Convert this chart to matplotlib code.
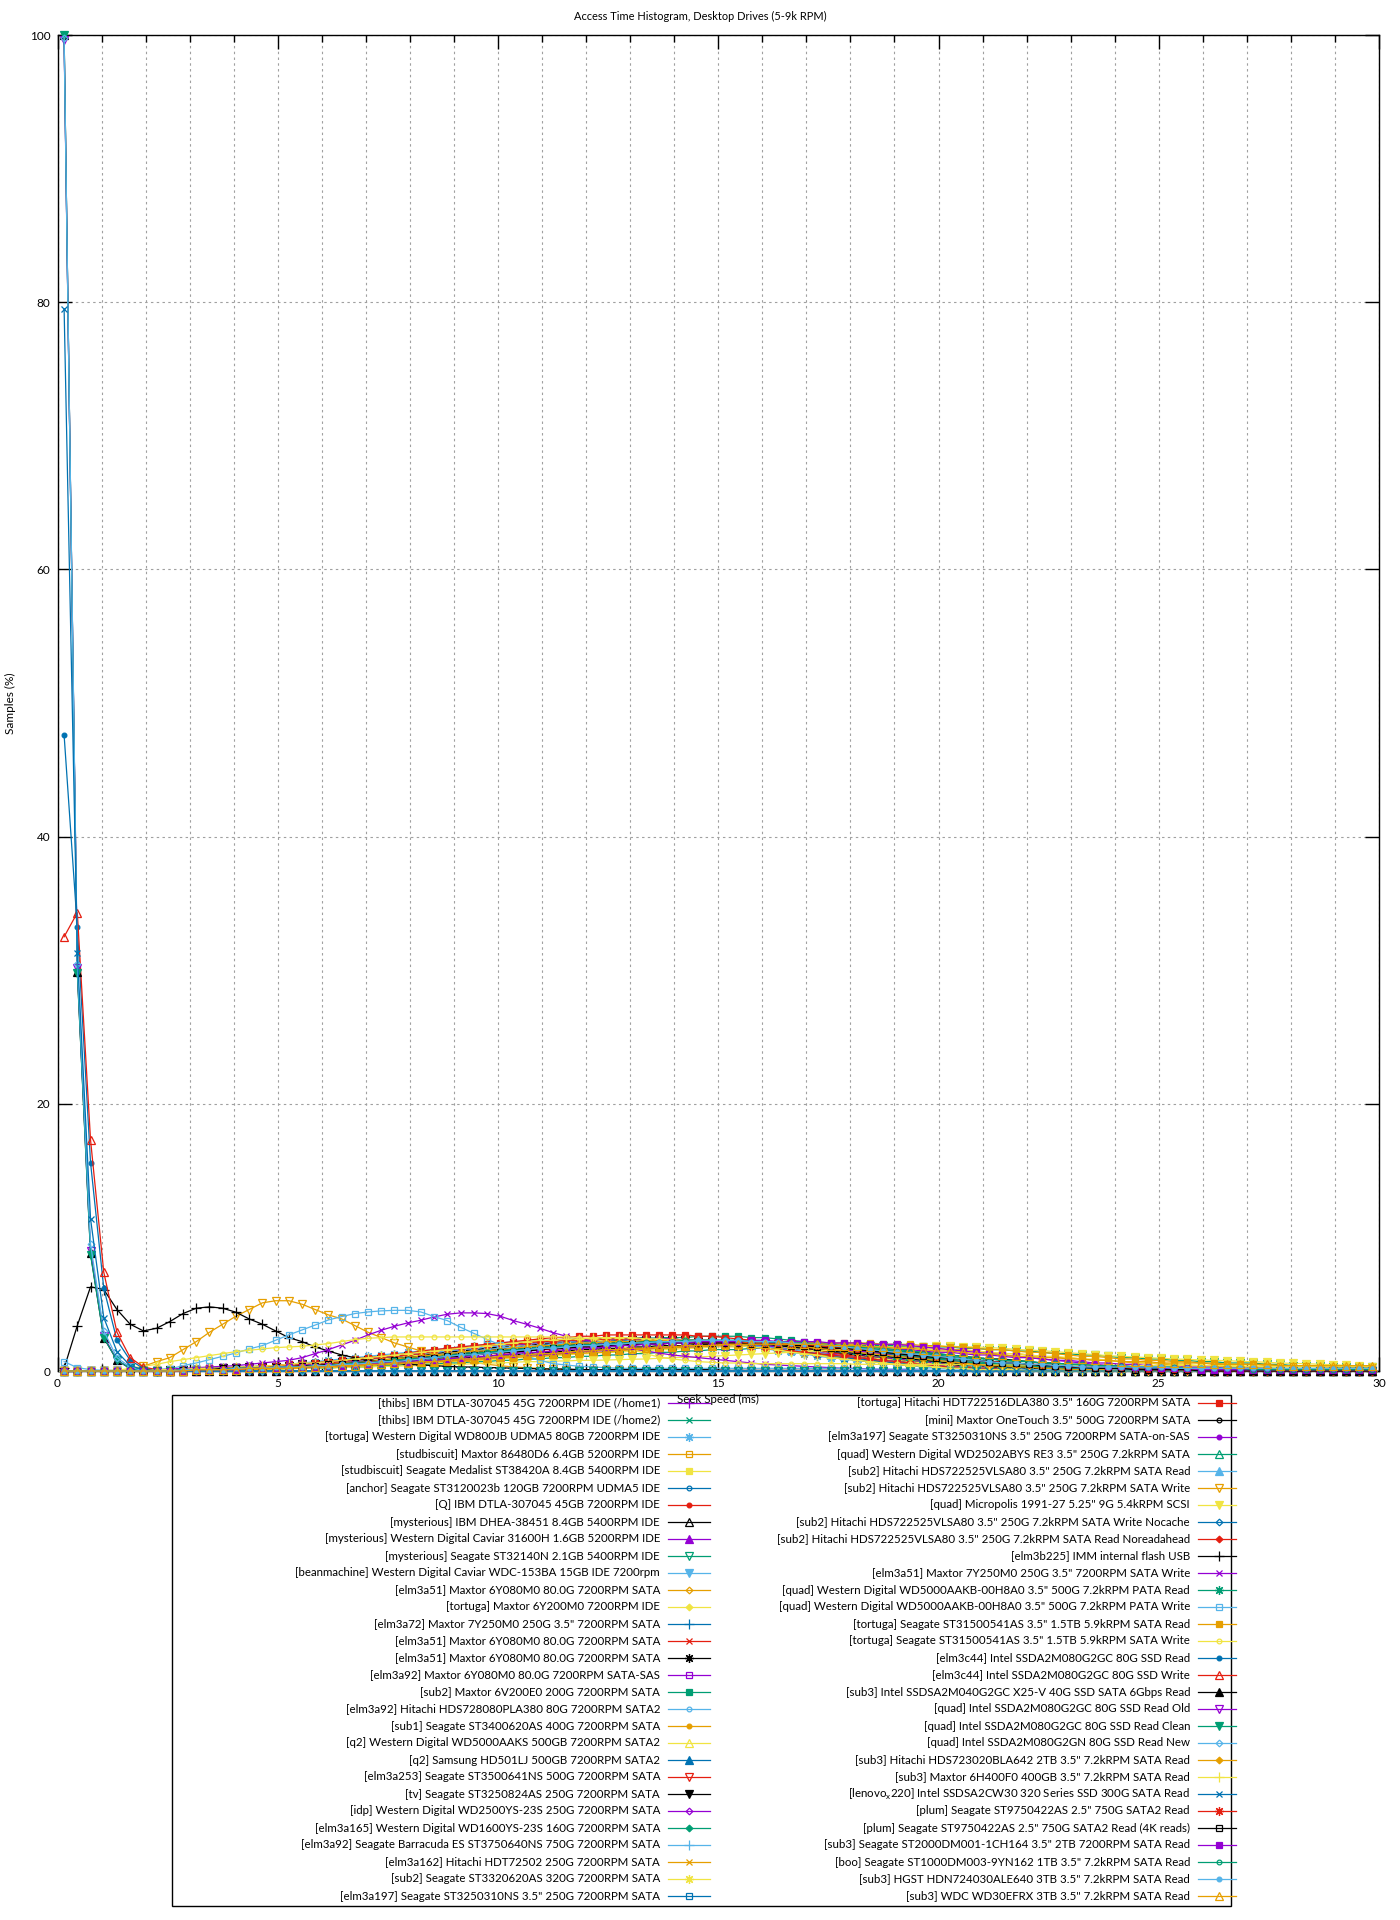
import numpy as np
import matplotlib
matplotlib.use('Agg')
import matplotlib.pyplot as plt
from matplotlib.lines import Line2D
from matplotlib.patches import Rectangle

plt.rcParams['font.family'] = ['Lato', 'DejaVu Sans']
plt.rcParams['mathtext.fontset'] = 'custom'
plt.rcParams['mathtext.rm'] = 'Lato'

TITLE = 'Access Time Histogram, Desktop Drives (5-9k RPM)'
XLABEL = 'Seek Speed (ms)'
YLABEL = 'Samples (%)'
X_TICKS = [0, 5, 10, 15, 20, 25, 30]
X_MINOR = list(range(0, 31))
Y_TICKS = [0, 20, 40, 60, 80, 100]
N_BINS = 100
BIN_START = 0.15
BIN_STEP = 0.3

LABELS = [
    '[thibs] IBM DTLA-307045 45G 7200RPM IDE (/home1)',
    '[thibs] IBM DTLA-307045 45G 7200RPM IDE (/home2)',
    '[tortuga] Western Digital WD800JB UDMA5 80GB 7200RPM IDE',
    '[studbiscuit] Maxtor 86480D6 6.4GB 5200RPM IDE',
    '[studbiscuit] Seagate Medalist ST38420A 8.4GB 5400RPM IDE',
    '[anchor] Seagate ST3120023b 120GB 7200RPM UDMA5 IDE',
    '[Q] IBM DTLA-307045 45GB 7200RPM IDE',
    '[mysterious] IBM DHEA-38451 8.4GB 5400RPM IDE',
    '[mysterious] Western Digital Caviar 31600H 1.6GB 5200RPM IDE',
    '[mysterious] Seagate ST32140N 2.1GB 5400RPM IDE',
    '[beanmachine] Western Digital Caviar WDC-153BA 15GB IDE 7200rpm',
    '[elm3a51] Maxtor 6Y080M0 80.0G 7200RPM SATA',
    '[tortuga] Maxtor 6Y200M0 7200RPM IDE',
    '[elm3a72] Maxtor 7Y250M0 250G 3.5" 7200RPM SATA',
    '[elm3a51] Maxtor 6Y080M0 80.0G 7200RPM SATA',
    '[elm3a51] Maxtor 6Y080M0 80.0G 7200RPM SATA',
    '[elm3a92] Maxtor 6Y080M0 80.0G 7200RPM SATA-SAS',
    '[sub2] Maxtor 6V200E0 200G 7200RPM SATA',
    '[elm3a92] Hitachi HDS728080PLA380 80G 7200RPM SATA2',
    '[sub1] Seagate ST3400620AS 400G 7200RPM SATA',
    '[q2] Western Digital WD5000AAKS 500GB 7200RPM SATA2',
    '[q2] Samsung HD501LJ 500GB 7200RPM SATA2',
    '[elm3a253] Seagate ST3500641NS 500G 7200RPM SATA',
    '[tv] Seagate ST3250824AS 250G 7200RPM SATA',
    '[idp] Western Digital WD2500YS-23S 250G 7200RPM SATA',
    '[elm3a165] Western Digital WD1600YS-23S 160G 7200RPM SATA',
    '[elm3a92] Seagate Barracuda ES ST3750640NS 750G 7200RPM SATA',
    '[elm3a162] Hitachi HDT72502 250G 7200RPM SATA',
    '[sub2] Seagate ST3320620AS 320G 7200RPM SATA',
    '[elm3a197] Seagate ST3250310NS 3.5" 250G 7200RPM SATA',
    '[tortuga] Hitachi HDT722516DLA380 3.5" 160G 7200RPM SATA',
    '[mini] Maxtor OneTouch 3.5" 500G 7200RPM SATA',
    '[elm3a197] Seagate ST3250310NS 3.5" 250G 7200RPM SATA-on-SAS',
    '[quad] Western Digital WD2502ABYS RE3 3.5" 250G 7.2kRPM SATA',
    '[sub2] Hitachi HDS722525VLSA80 3.5" 250G 7.2kRPM SATA Read',
    '[sub2] Hitachi HDS722525VLSA80 3.5" 250G 7.2kRPM SATA Write',
    '[quad] Micropolis 1991-27 5.25" 9G 5.4kRPM SCSI',
    '[sub2] Hitachi HDS722525VLSA80 3.5" 250G 7.2kRPM SATA Write Nocache',
    '[sub2] Hitachi HDS722525VLSA80 3.5" 250G 7.2kRPM SATA Read Noreadahead',
    '[elm3b225] IMM internal flash USB',
    '[elm3a51] Maxtor 7Y250M0 250G 3.5" 7200RPM SATA Write',
    '[quad] Western Digital WD5000AAKB-00H8A0 3.5" 500G 7.2kRPM PATA Read',
    '[quad] Western Digital WD5000AAKB-00H8A0 3.5" 500G 7.2kRPM PATA Write',
    '[tortuga] Seagate ST31500541AS 3.5" 1.5TB 5.9kRPM SATA Read',
    '[tortuga] Seagate ST31500541AS 3.5" 1.5TB 5.9kRPM SATA Write',
    '[elm3c44] Intel SSDA2M080G2GC 80G SSD Read',
    '[elm3c44] Intel SSDA2M080G2GC 80G SSD Write',
    '[sub3] Intel SSDSA2M040G2GC X25-V 40G SSD SATA 6Gbps Read',
    '[quad] Intel SSDA2M080G2GC 80G SSD Read Old',
    '[quad] Intel SSDA2M080G2GC 80G SSD Read Clean',
    '[quad] Intel SSDA2M080G2GN 80G SSD Read New',
    '[sub3] Hitachi HDS723020BLA642 2TB 3.5" 7.2kRPM SATA Read',
    '[sub3] Maxtor 6H400F0 400GB 3.5" 7.2kRPM SATA Read',
    r'[lenovo$_{\mathrm{x}}$220] Intel SSDSA2CW30 320 Series SSD 300G SATA Read',
    '[plum] Seagate ST9750422AS 2.5" 750G SATA2 Read',
    '[plum] Seagate ST9750422AS 2.5" 750G SATA2 Read (4K reads)',
    '[sub3] Seagate ST2000DM001-1CH164 3.5" 2TB 7200RPM SATA Read',
    '[boo] Seagate ST1000DM003-9YN162 1TB 3.5" 7.2kRPM SATA Read',
    '[sub3] HGST HDN724030ALE640 3TB 3.5" 7.2kRPM SATA Read',
    '[sub3] WDC WD30EFRX 3TB 3.5" 7.2kRPM SATA Read',
]

# Samples (%) per 0.3 ms bin, first bin at 0.15 ms; trailing bins not listed are 0
s01 = [0,0,0,0,0,0,0,0,0,0.1, 0.1,0.1,0.1,0.2,0.2,0.2,0.3,0.3,0.4,0.4, 0.5,0.6,0.6,0.7,0.8,0.9,1.0,1.1,1.2,1.3,
       1.4,1.5,1.6,1.7,1.8,1.9,1.9,2.0,2.1,2.1, 2.2,2.2,2.2,2.3,2.3,2.3,2.3,2.3,2.3,2.2, 2.2,2.1,2.1,2.0,1.9,1.8,1.7,1.6,1.5,1.4,
       1.2,1.1,1.0,0.9,0.8,0.7,0.6,0.5,0.4,0.4, 0.3,0.3,0.2,0.2,0.2,0.1,0.1,0.1,0.1,0.1]
s02 = [0,0,0,0,0,0,0,0,0.1,0.1, 0.1,0.1,0.2,0.2,0.2,0.3,0.3,0.4,0.4,0.5, 0.6,0.6,0.7,0.8,0.9,1.0,1.1,1.2,1.3,1.4,
       1.5,1.6,1.7,1.8,1.9,2.0,2.0,2.1,2.1,2.2, 2.2,2.3,2.3,2.3,2.3,2.3,2.2,2.2,2.2,2.1, 2.1,2.0,1.9,1.8,1.7,1.6,1.5,1.4,1.3,1.2,
       1.1,1.0,0.9,0.8,0.7,0.6,0.5,0.4,0.4,0.3, 0.3,0.2,0.2,0.2,0.1,0.1,0.1,0.1]
s03 = [0,0,0,0,0,0,0,0.1,0.1,0.1, 0.2,0.2,0.2,0.3,0.3,0.4,0.4,0.5,0.6,0.7, 0.8,0.9,1.0,1.1,1.2,1.3,1.4,1.5,1.6,1.7,
       1.8,1.9,2.0,2.1,2.2,2.2,2.3,2.3,2.4,2.4, 2.4,2.5,2.5,2.4,2.4,2.4,2.3,2.3,2.2,2.1, 2.0,1.9,1.8,1.7,1.5,1.4,1.3,1.1,1.0,0.9,
       0.8,0.7,0.6,0.5,0.4,0.3,0.3,0.2,0.2,0.1, 0.1,0.1,0.1]
s04 = [0,0,0,0,0,0,0,0,0,0, 0,0.1,0.1,0.1,0.1,0.1,0.2,0.2,0.2,0.3, 0.3,0.3,0.4,0.4,0.5,0.5,0.6,0.6,0.7,0.8,
       0.8,0.9,1.0,1.0,1.1,1.2,1.2,1.3,1.4,1.4, 1.5,1.6,1.6,1.7,1.7,1.8,1.8,1.9,1.9,1.9, 2.0,2.0,2.0,2.0,2.1,2.1,2.1,2.1,2.1,2.0,
       2.0,2.0,1.9,1.9,1.8,1.8,1.7,1.6,1.6,1.5, 1.4,1.3,1.3,1.2,1.1,1.0,1.0,0.9,0.8,0.8, 0.7,0.6,0.6,0.5,0.5,0.4,0.4,0.4,0.3,0.3,
       0.3,0.2,0.2,0.2,0.2,0.1,0.1,0.1,0.1,0.1]
s05 = [0,0,0,0,0,0,0,0,0,0, 0,0,0.1,0.1,0.1,0.1,0.1,0.2,0.2,0.2, 0.3,0.3,0.3,0.4,0.4,0.5,0.5,0.6,0.6,0.7,
       0.7,0.8,0.8,0.9,1.0,1.0,1.1,1.1,1.2,1.3, 1.3,1.4,1.4,1.5,1.5,1.6,1.6,1.7,1.7,1.8, 1.8,1.8,1.9,1.9,1.9,1.9,1.9,1.9,1.9,1.9,
       1.9,1.8,1.8,1.8,1.7,1.7,1.6,1.6,1.5,1.5, 1.4,1.3,1.3,1.2,1.1,1.1,1.0,0.9,0.9,0.8, 0.7,0.7,0.6,0.6,0.5,0.5,0.4,0.4,0.4,0.3,
       0.3,0.3,0.2,0.2,0.2,0.2,0.2,0.1,0.1,0.1]
s06 = [0,0,0,0,0,0,0,0,0.1,0.1, 0.1,0.2,0.2,0.2,0.3,0.3,0.4,0.4,0.5,0.6, 0.6,0.7,0.8,0.9,1.0,1.1,1.2,1.3,1.4,1.5,
       1.6,1.7,1.8,1.9,2.0,2.0,2.1,2.2,2.2,2.3, 2.3,2.3,2.4,2.4,2.4,2.4,2.3,2.3,2.3,2.2, 2.1,2.0,1.9,1.8,1.7,1.6,1.4,1.3,1.2,1.0,
       0.9,0.8,0.7,0.6,0.5,0.4,0.3,0.3,0.2,0.2, 0.1,0.1,0.1,0.1]
s07 = [0,0,0,0,0,0,0,0,0,0.1, 0.1,0.1,0.2,0.2,0.2,0.3,0.3,0.4,0.4,0.5, 0.6,0.7,0.7,0.8,0.9,1.0,1.1,1.2,1.3,1.5,
       1.6,1.7,1.8,1.9,1.9,2.0,2.1,2.1,2.2,2.2, 2.3,2.3,2.3,2.4,2.4,2.4,2.4,2.3,2.3,2.2, 2.2,2.1,2.0,1.9,1.8,1.7,1.6,1.4,1.3,1.2,
       1.1,0.9,0.8,0.7,0.6,0.5,0.4,0.4,0.3,0.2, 0.2,0.2,0.1,0.1,0.1,0.1]
s08 = [0,0,0,0,0,0,0,0,0,0, 0.1,0.1,0.1,0.1,0.2,0.2,0.2,0.3,0.3,0.3, 0.4,0.4,0.5,0.5,0.6,0.6,0.7,0.8,0.8,0.9,
       1.0,1.0,1.1,1.2,1.2,1.3,1.4,1.4,1.5,1.6, 1.6,1.7,1.7,1.8,1.8,1.9,1.9,1.9,2.0,2.0, 2.0,2.0,2.0,2.0,2.0,2.0,1.9,1.9,1.8,1.8,
       1.7,1.7,1.6,1.5,1.4,1.4,1.3,1.2,1.1,1.0, 0.9,0.9,0.8,0.7,0.6,0.6,0.5,0.5,0.4,0.4, 0.3,0.3,0.3,0.2,0.2,0.2,0.2,0.1,0.1,0.1,
       0.1,0.1,0.1]
s09 = [0,0,0,0,0,0,0,0,0,0, 0,0.1,0.1,0.1,0.1,0.2,0.2,0.2,0.3,0.3, 0.3,0.4,0.4,0.5,0.5,0.6,0.6,0.7,0.7,0.8,
       0.9,0.9,1.0,1.0,1.1,1.2,1.2,1.3,1.3,1.4, 1.5,1.5,1.6,1.6,1.7,1.7,1.8,1.8,1.8,1.9, 1.9,1.9,1.9,1.9,1.9,1.9,1.9,1.9,1.8,1.8,
       1.8,1.7,1.7,1.6,1.6,1.5,1.4,1.4,1.3,1.2, 1.2,1.1,1.0,1.0,0.9,0.8,0.8,0.7,0.6,0.6, 0.5,0.5,0.4,0.4,0.4,0.3,0.3,0.3,0.2,0.2,
       0.2,0.2,0.1,0.1,0.1,0.1,0.1,0.1]
s10 = [0,0,0,0,0,0,0,0,0,0, 0,0,0,0.1,0.1,0.1,0.1,0.2,0.2,0.2, 0.2,0.3,0.3,0.3,0.4,0.4,0.5,0.5,0.5,0.6,
       0.6,0.7,0.7,0.8,0.8,0.9,0.9,1.0,1.0,1.1, 1.1,1.2,1.2,1.3,1.3,1.4,1.4,1.5,1.5,1.6, 1.6,1.6,1.7,1.7,1.7,1.8,1.8,1.8,1.8,1.9,
       1.9,1.9,1.9,1.9,1.8,1.8,1.8,1.8,1.7,1.7, 1.6,1.6,1.5,1.5,1.4,1.3,1.3,1.2,1.2,1.1, 1.0,1.0,0.9,0.9,0.8,0.8,0.7,0.7,0.6,0.6,
       0.6,0.5,0.5,0.4,0.4,0.4,0.3,0.3,0.3,0.3]
s11 = [0,0,0,0,0,0,0,0,0,0, 0.1,0.1,0.1,0.2,0.2,0.2,0.3,0.3,0.4,0.4, 0.5,0.5,0.6,0.7,0.7,0.8,0.9,1.0,1.1,1.2,
       1.3,1.4,1.5,1.6,1.7,1.8,1.8,1.9,2.0,2.0, 2.1,2.1,2.2,2.2,2.2,2.3,2.3,2.3,2.3,2.3, 2.2,2.2,2.1,2.1,2.0,1.9,1.8,1.7,1.6,1.5,
       1.4,1.3,1.2,1.1,1.0,0.9,0.8,0.7,0.6,0.5, 0.4,0.4,0.3,0.3,0.2,0.2,0.2,0.1,0.1,0.1, 0.1]
s12 = [0,0,0,0,0,0,0,0,0.1,0.1, 0.1,0.1,0.2,0.2,0.2,0.3,0.3,0.4,0.5,0.5, 0.6,0.7,0.8,0.9,1.0,1.1,1.2,1.3,1.4,1.5,
       1.6,1.7,1.8,1.9,2.0,2.0,2.1,2.2,2.2,2.3, 2.3,2.3,2.4,2.4,2.4,2.4,2.4,2.3,2.3,2.2, 2.2,2.1,2.0,1.9,1.8,1.7,1.6,1.5,1.3,1.2,
       1.1,1.0,0.8,0.7,0.6,0.5,0.5,0.4,0.3,0.3, 0.2,0.2,0.1,0.1,0.1,0.1]
s13 = [0,0,0,0,0,0,0,0.1,0.1,0.1, 0.2,0.2,0.2,0.3,0.3,0.4,0.4,0.5,0.5,0.6, 0.7,0.7,0.8,0.9,1.0,1.0,1.1,1.2,1.3,1.4,
       1.5,1.6,1.7,1.7,1.8,1.9,1.9,2.0,2.0,2.1, 2.1,2.2,2.2,2.2,2.3,2.3,2.3,2.3,2.2,2.2, 2.2,2.1,2.1,2.0,1.9,1.8,1.7,1.6,1.5,1.4,
       1.3,1.2,1.0,0.9,0.8,0.7,0.6,0.5,0.5,0.4, 0.3,0.3,0.2,0.2,0.1,0.1,0.1,0.1]
s14 = [0,0,0,0,0,0,0,0,0.1,0.1, 0.1,0.2,0.2,0.2,0.3,0.3,0.4,0.4,0.5,0.6, 0.6,0.7,0.8,0.9,1.0,1.1,1.2,1.4,1.5,1.6,
       1.7,1.8,1.9,2.0,2.1,2.2,2.2,2.3,2.3,2.4, 2.4,2.4,2.5,2.5,2.5,2.4,2.4,2.3,2.3,2.2, 2.1,2.0,1.9,1.8,1.6,1.5,1.4,1.2,1.1,1.0,
       0.8,0.7,0.6,0.5,0.4,0.4,0.3,0.2,0.2,0.1, 0.1,0.1,0.1]
s15 = [0,0,0,0,0,0,0,0,0.1,0.1, 0.1,0.1,0.2,0.2,0.3,0.3,0.4,0.4,0.5,0.5, 0.6,0.7,0.8,0.9,1.0,1.1,1.2,1.3,1.4,1.5,
       1.6,1.7,1.8,1.9,2.0,2.1,2.1,2.2,2.2,2.3, 2.3,2.4,2.4,2.4,2.4,2.4,2.3,2.3,2.3,2.2, 2.1,2.0,1.9,1.8,1.7,1.6,1.5,1.3,1.2,1.1,
       1.0,0.9,0.7,0.6,0.5,0.5,0.4,0.3,0.3,0.2, 0.2,0.1,0.1,0.1,0.1]
s16 = [0,0,0,0,0,0,0,0,0.1,0.1, 0.1,0.2,0.2,0.2,0.3,0.3,0.4,0.5,0.5,0.6, 0.7,0.8,0.8,0.9,1.0,1.1,1.2,1.3,1.4,1.5,
       1.6,1.7,1.8,1.9,2.0,2.0,2.1,2.2,2.2,2.3, 2.3,2.3,2.4,2.4,2.4,2.3,2.3,2.3,2.2,2.2, 2.1,2.0,1.9,1.8,1.7,1.6,1.4,1.3,1.2,1.1,
       0.9,0.8,0.7,0.6,0.5,0.4,0.4,0.3,0.2,0.2, 0.2,0.1,0.1,0.1]
s17 = [0,0,0,0,0,0,0,0,0.1,0.1, 0.1,0.1,0.2,0.2,0.2,0.3,0.3,0.4,0.4,0.5, 0.6,0.6,0.7,0.8,0.9,1.0,1.1,1.2,1.3,1.4,
       1.5,1.6,1.7,1.8,1.8,1.9,2.0,2.0,2.1,2.1, 2.2,2.2,2.2,2.3,2.3,2.3,2.3,2.3,2.2,2.2, 2.2,2.1,2.0,2.0,1.9,1.8,1.7,1.6,1.5,1.4,
       1.2,1.1,1.0,0.9,0.8,0.7,0.6,0.5,0.4,0.4, 0.3,0.3,0.2,0.2,0.2,0.1,0.1,0.1,0.1,0.1, 0.1,0.1]
s18 = [0,0,0,0,0,0,0,0,0,0.1, 0.1,0.1,0.1,0.2,0.2,0.2,0.3,0.3,0.4,0.4, 0.5,0.5,0.6,0.7,0.8,0.8,0.9,1.0,1.1,1.2,
       1.3,1.4,1.5,1.6,1.7,1.8,1.9,2.0,2.1,2.1, 2.2,2.3,2.3,2.4,2.4,2.5,2.5,2.5,2.6,2.6, 2.6,2.6,2.5,2.5,2.4,2.3,2.2,2.1,2.0,1.8,
       1.7,1.5,1.4,1.2,1.1,0.9,0.8,0.7,0.6,0.5, 0.4,0.3,0.3,0.2,0.2,0.1,0.1,0.1,0.1]
s19 = [0,0,0,0,0,0,0,0.1,0.1,0.1, 0.1,0.2,0.2,0.3,0.3,0.4,0.4,0.5,0.6,0.6, 0.7,0.8,0.9,1.0,1.1,1.2,1.3,1.4,1.5,1.6,
       1.7,1.8,1.9,2.0,2.1,2.2,2.2,2.3,2.3,2.4, 2.4,2.4,2.5,2.4,2.4,2.4,2.3,2.3,2.2,2.1, 2.0,1.9,1.8,1.7,1.6,1.4,1.3,1.2,1.0,0.9,
       0.8,0.7,0.6,0.5,0.4,0.3,0.3,0.2,0.2,0.1, 0.1,0.1,0.1]
s20 = [0,0,0,0,0,0,0,0,0,0.1, 0.1,0.1,0.1,0.2,0.2,0.2,0.3,0.3,0.4,0.4, 0.5,0.6,0.6,0.7,0.8,0.9,1.0,1.1,1.2,1.3,
       1.4,1.5,1.6,1.7,1.7,1.8,1.9,2.0,2.0,2.1, 2.1,2.2,2.2,2.2,2.3,2.3,2.3,2.3,2.3,2.2, 2.2,2.2,2.1,2.0,2.0,1.9,1.8,1.7,1.6,1.5,
       1.4,1.2,1.1,1.0,0.9,0.8,0.7,0.6,0.5,0.4, 0.4,0.3,0.3,0.2,0.2,0.1,0.1,0.1,0.1,0.1]
s21 = [0,0,0,0,0,0,0,0,0,0.1, 0.1,0.1,0.1,0.2,0.2,0.2,0.3,0.3,0.3,0.4, 0.4,0.5,0.5,0.6,0.7,0.7,0.8,0.9,1.0,1.1,
       1.2,1.3,1.4,1.5,1.5,1.6,1.7,1.8,1.8,1.9, 1.9,2.0,2.0,2.1,2.1,2.1,2.2,2.2,2.2,2.2, 2.2,2.2,2.2,2.1,2.1,2.0,2.0,1.9,1.8,1.7,
       1.6,1.5,1.4,1.3,1.2,1.1,1.0,0.9,0.8,0.7, 0.6,0.5,0.4,0.4,0.3,0.3,0.2,0.2,0.2,0.1, 0.1,0.1,0.1]
s22 = [0,0,0,0,0,0,0,0,0.1,0.1, 0.1,0.1,0.2,0.2,0.2,0.3,0.3,0.4,0.4,0.5, 0.6,0.6,0.7,0.8,0.9,1.0,1.1,1.2,1.3,1.4,
       1.5,1.6,1.7,1.8,1.9,2.0,2.1,2.1,2.2,2.2, 2.3,2.3,2.3,2.4,2.4,2.4,2.4,2.3,2.3,2.3, 2.2,2.1,2.0,1.9,1.8,1.7,1.6,1.5,1.4,1.2,
       1.1,1.0,0.9,0.8,0.7,0.6,0.5,0.4,0.3,0.3, 0.2,0.2,0.1,0.1,0.1,0.1]
s23 = [0,0,0,0,0,0,0,0,0,0.1, 0.1,0.1,0.1,0.2,0.2,0.2,0.3,0.3,0.4,0.4, 0.5,0.5,0.6,0.7,0.8,0.8,0.9,1.0,1.1,1.2,
       1.3,1.4,1.5,1.6,1.6,1.7,1.8,1.9,1.9,2.0, 2.0,2.1,2.1,2.2,2.2,2.2,2.3,2.3,2.3,2.3, 2.2,2.2,2.2,2.1,2.0,2.0,1.9,1.8,1.7,1.6,
       1.5,1.4,1.3,1.2,1.1,1.0,0.9,0.8,0.7,0.6, 0.5,0.4,0.4,0.3,0.3,0.2,0.2,0.1,0.1,0.1, 0.1,0.1]
s24 = [0,0,0,0,0,0,0,0,0.1,0.1, 0.1,0.1,0.2,0.2,0.3,0.3,0.3,0.4,0.5,0.5, 0.6,0.7,0.7,0.8,0.9,1.0,1.1,1.2,1.3,1.4,
       1.5,1.6,1.7,1.8,1.8,1.9,2.0,2.0,2.1,2.1, 2.2,2.2,2.2,2.3,2.3,2.3,2.3,2.3,2.2,2.2, 2.1,2.1,2.0,1.9,1.8,1.7,1.6,1.5,1.4,1.3,
       1.2,1.0,0.9,0.8,0.7,0.6,0.5,0.5,0.4,0.3, 0.3,0.2,0.2,0.1,0.1,0.1,0.1]
s25 = [0,0,0,0,0,0,0,0,0,0.1, 0.1,0.1,0.1,0.2,0.2,0.2,0.3,0.3,0.3,0.4, 0.4,0.5,0.6,0.6,0.7,0.8,0.9,1.0,1.0,1.1,
       1.2,1.3,1.4,1.5,1.6,1.6,1.7,1.8,1.8,1.9, 2.0,2.0,2.0,2.1,2.1,2.1,2.2,2.2,2.2,2.2, 2.2,2.1,2.1,2.1,2.0,2.0,1.9,1.8,1.7,1.6,
       1.5,1.4,1.3,1.2,1.1,1.0,0.9,0.8,0.7,0.6, 0.5,0.5,0.4,0.3,0.3,0.2,0.2,0.2,0.1,0.1, 0.1,0.1,0.1]
s26 = [0,0,0,0,0,0,0,0,0,0.1, 0.1,0.1,0.2,0.2,0.2,0.3,0.3,0.3,0.4,0.4, 0.5,0.5,0.6,0.7,0.7,0.8,0.9,1.0,1.1,1.2,
       1.2,1.3,1.4,1.5,1.6,1.6,1.7,1.8,1.8,1.9, 1.9,2.0,2.0,2.0,2.1,2.1,2.1,2.2,2.2,2.2, 2.2,2.2,2.1,2.1,2.1,2.0,1.9,1.9,1.8,1.7,
       1.6,1.5,1.4,1.3,1.2,1.1,1.0,0.9,0.8,0.7, 0.6,0.5,0.5,0.4,0.3,0.3,0.2,0.2,0.2,0.1, 0.1,0.1,0.1]
s27 = [0,0,0,0,0,0,0,0,0.1,0.1, 0.1,0.1,0.2,0.2,0.2,0.3,0.3,0.4,0.4,0.5, 0.5,0.6,0.7,0.8,0.9,0.9,1.0,1.1,1.2,1.3,
       1.4,1.5,1.6,1.7,1.8,1.9,1.9,2.0,2.1,2.1, 2.2,2.2,2.2,2.3,2.3,2.3,2.3,2.3,2.3,2.2, 2.2,2.1,2.1,2.0,1.9,1.8,1.7,1.6,1.5,1.4,
       1.3,1.2,1.1,1.0,0.9,0.8,0.7,0.6,0.5,0.4, 0.4,0.3,0.2,0.2,0.2,0.1,0.1,0.1,0.1]
s28 = [0,0,0,0,0,0,0,0.1,0.1,0.1, 0.1,0.2,0.2,0.2,0.3,0.3,0.4,0.5,0.5,0.6, 0.7,0.8,0.9,1.0,1.1,1.2,1.3,1.4,1.5,1.6,
       1.7,1.8,1.9,2.0,2.1,2.2,2.2,2.3,2.3,2.4, 2.4,2.4,2.5,2.5,2.4,2.4,2.4,2.3,2.3,2.2, 2.1,2.0,1.9,1.7,1.6,1.5,1.3,1.2,1.1,1.0,
       0.8,0.7,0.6,0.5,0.4,0.4,0.3,0.2,0.2,0.1, 0.1,0.1,0.1]
s29 = [0,0,0,0,0,0,0,0,0.1,0.1, 0.1,0.1,0.2,0.2,0.3,0.3,0.3,0.4,0.5,0.5, 0.6,0.7,0.8,0.9,0.9,1.0,1.1,1.2,1.4,1.5,
       1.6,1.7,1.8,1.9,1.9,2.0,2.1,2.2,2.2,2.3, 2.3,2.3,2.4,2.4,2.4,2.4,2.4,2.3,2.3,2.3, 2.2,2.1,2.0,1.9,1.8,1.7,1.6,1.5,1.3,1.2,
       1.1,1.0,0.9,0.8,0.7,0.6,0.5,0.4,0.3,0.3, 0.2,0.2,0.1,0.1,0.1,0.1]
s30 = [0,0,0,0,0,0,0,0,0.1,0.1, 0.1,0.1,0.2,0.2,0.3,0.3,0.4,0.4,0.5,0.6, 0.6,0.7,0.8,0.9,1.0,1.1,1.2,1.3,1.4,1.5,
       1.6,1.7,1.8,1.9,2.0,2.1,2.1,2.2,2.2,2.3, 2.3,2.4,2.4,2.4,2.4,2.4,2.3,2.3,2.2,2.2, 2.1,2.0,1.9,1.8,1.7,1.5,1.4,1.3,1.2,1.0,
       0.9,0.8,0.7,0.6,0.5,0.4,0.3,0.3,0.2,0.2, 0.1,0.1,0.1,0.1]
s31 = [0,0,0,0,0,0,0,0,0.1,0.1, 0.1,0.2,0.2,0.2,0.3,0.3,0.4,0.5,0.5,0.6, 0.7,0.8,0.9,1.0,1.1,1.2,1.3,1.5,1.6,1.7,
       1.8,1.9,2.0,2.1,2.2,2.3,2.4,2.5,2.5,2.6, 2.6,2.7,2.7,2.7,2.7,2.7,2.7,2.7,2.6,2.6, 2.5,2.4,2.3,2.2,2.0,1.9,1.7,1.6,1.4,1.2,
       1.1,0.9,0.8,0.7,0.6,0.5,0.4,0.3,0.3,0.2, 0.2,0.1,0.1,0.1]
s32 = [0,0,0,0,0,0,0,0,0,0.1, 0.1,0.1,0.1,0.2,0.2,0.3,0.3,0.3,0.4,0.4, 0.5,0.6,0.6,0.7,0.8,0.9,1.0,1.1,1.1,1.2,
       1.3,1.4,1.5,1.6,1.7,1.7,1.8,1.9,1.9,2.0, 2.0,2.1,2.1,2.1,2.2,2.2,2.2,2.2,2.2,2.2, 2.1,2.1,2.0,2.0,1.9,1.8,1.7,1.6,1.5,1.4,
       1.3,1.2,1.1,1.0,0.9,0.8,0.7,0.6,0.5,0.5, 0.4,0.3,0.3,0.2,0.2,0.2,0.1,0.1,0.1,0.1]
s33 = [0,0,0,0,0,0,0,0,0.1,0.1, 0.1,0.1,0.2,0.2,0.3,0.3,0.4,0.4,0.5,0.5, 0.6,0.7,0.8,0.9,1.0,1.1,1.2,1.3,1.4,1.5,
       1.6,1.7,1.8,1.9,2.0,2.0,2.1,2.2,2.2,2.3, 2.3,2.3,2.4,2.4,2.4,2.4,2.4,2.3,2.3,2.2, 2.2,2.1,2.0,1.9,1.8,1.6,1.5,1.4,1.3,1.1,
       1.0,0.9,0.8,0.7,0.6,0.5,0.4,0.3,0.3,0.2, 0.2,0.1,0.1,0.1,0.1]
s34 = [0,0,0,0,0,0,0,0,0,0.1, 0.1,0.1,0.1,0.2,0.2,0.2,0.3,0.3,0.3,0.4, 0.4,0.5,0.6,0.6,0.7,0.8,0.9,1.0,1.1,1.2,
       1.3,1.4,1.4,1.5,1.6,1.7,1.8,1.8,1.9,2.0, 2.0,2.1,2.1,2.1,2.2,2.2,2.2,2.3,2.3,2.3, 2.3,2.2,2.2,2.2,2.1,2.0,2.0,1.9,1.8,1.7,
       1.6,1.5,1.4,1.2,1.1,1.0,0.9,0.8,0.7,0.6, 0.5,0.4,0.4,0.3,0.3,0.2,0.2,0.1,0.1,0.1, 0.1]
s35 = [0,0,0,0,0,0,0,0,0.1,0.1, 0.1,0.2,0.2,0.2,0.3,0.3,0.4,0.4,0.5,0.6, 0.6,0.7,0.8,0.9,1.0,1.1,1.2,1.3,1.4,1.5,
       1.6,1.7,1.8,1.9,2.0,2.1,2.1,2.2,2.2,2.3, 2.3,2.4,2.4,2.4,2.4,2.4,2.3,2.3,2.3,2.2, 2.1,2.0,1.9,1.8,1.7,1.6,1.5,1.4,1.2,1.1,
       1.0,0.9,0.8,0.7,0.6,0.5,0.4,0.3,0.3,0.2, 0.2,0.1,0.1,0.1,0.1]
s36 = [0,0,0,0,0,0.1,0.35,0.7,1.0,1.6, 2.2,2.9,3.5,4.1,4.6,5.1,5.26,5.26,5.0,4.6, 4.2,3.9,3.4,2.9,2.5,2.1,1.8,1.5,1.25,1.0,
       0.8,0.65,0.5,0.4,0.3,0.25,0.2,0.15,0.1,0.1, 0.1,0.05,0.05,0.05]
s37 = [0,0,0,0,0,0,0,0,0,0, 0.05,0.05,0.05,0.1,0.1,0.1,0.15,0.15,0.2,0.2, 0.25,0.25,0.3,0.3,0.35,0.35,0.4,0.4,0.45,0.5,
       0.5,0.55,0.6,0.6,0.65,0.7,0.7,0.75,0.75,0.8, 0.8,0.82,0.85,0.88,0.9,0.95,1.0,1.02,1.05,1.1, 1.15,1.2,1.25,1.3,1.35,1.4,1.45,1.5,1.55,1.6,
       1.62,1.68,1.72,1.75,1.8,1.82,1.87,1.85,1.82,1.8, 1.75,1.7,1.62,1.57,1.52,1.45,1.37,1.3,1.22,1.15, 1.1,1.05,1.0,0.95,0.9,0.87,0.83,0.8,0.77,0.73,
       0.7,0.65,0.6,0.57,0.55,0.5,0.47,0.42,0.38,0.32]
s38 = [0,0,0,0,0,0,0,0,0,0, 0.1,0.1,0.1,0.1,0.2,0.2,0.2,0.3,0.3,0.4, 0.4,0.5,0.5,0.6,0.7,0.7,0.8,0.9,1.0,1.0,
       1.1,1.2,1.3,1.4,1.5,1.5,1.6,1.7,1.8,1.8, 1.9,1.9,2.0,2.0,2.1,2.1,2.1,2.2,2.2,2.2, 2.2,2.2,2.2,2.2,2.1,2.1,2.0,2.0,1.9,1.8,
       1.7,1.6,1.5,1.4,1.3,1.2,1.1,1.0,0.9,0.8, 0.7,0.6,0.5,0.5,0.4,0.3,0.3,0.2,0.2,0.2, 0.1,0.1,0.1,0.1]
s39 = [0,0,0,0,0,0,0,0,0.1,0.1, 0.1,0.1,0.2,0.2,0.3,0.3,0.4,0.4,0.5,0.6, 0.6,0.7,0.8,0.9,1.0,1.1,1.2,1.3,1.5,1.6,
       1.7,1.8,1.9,2.0,2.0,2.1,2.2,2.2,2.3,2.3, 2.3,2.4,2.4,2.4,2.4,2.3,2.3,2.3,2.2,2.1, 2.0,1.9,1.8,1.7,1.6,1.5,1.4,1.3,1.2,1.1,
       1.0,0.9,0.8,0.7,0.6,0.5,0.4,0.3,0.3,0.2, 0.2,0.1,0.1,0.1,0.1]
s40 = [0.2,3.4,6.3,6.1,4.6,3.5,3.0,3.2,3.7,4.3, 4.7,4.8,4.7,4.4,3.9,3.5,3.0,2.5,2.2,1.8, 1.5,1.2,1.0,0.85,0.7,0.6,0.5,0.45,0.4,0.35,
       0.3,0.3,0.25,0.25,0.2,0.2,0.15,0.15,0.15,0.1, 0.1,0.1,0.1,0.1,0.1,0.1,0.1,0.1,0.1,0.1, 0.05,0.05,0.05,0.05,0.05,0.05,0.05,0.05,0.05,0.05]
s41 = [0,0,0,0,0,0,0.05,0.1,0.15,0.2, 0.25,0.3,0.35,0.4,0.5,0.6,0.7,0.8,1.0,1.3, 1.6,1.95,2.3,2.7,3.05,3.35,3.6,3.8,4.05,4.25,
       4.35,4.35,4.3,4.1,3.77,3.5,3.2,2.87,2.6,2.4, 2.2,2.0,1.8,1.65,1.5,1.35,1.2,1.1,1.0,0.9, 0.8,0.7,0.6,0.5,0.45,0.4,0.35,0.3,0.25,0.2,
       0.2,0.15,0.1,0.1,0.1,0.05]
s42 = [0,0,0,0,0,0,0,0,0,0.1, 0.1,0.1,0.1,0.2,0.2,0.2,0.2,0.3,0.3,0.4, 0.4,0.5,0.5,0.6,0.6,0.7,0.8,0.9,0.9,1.0,
       1.1,1.2,1.3,1.4,1.4,1.5,1.6,1.7,1.7,1.8, 1.9,1.9,2.0,2.0,2.1,2.1,2.1,2.2,2.2,2.2, 2.2,2.2,2.2,2.2,2.2,2.1,2.1,2.0,2.0,1.9,
       1.8,1.8,1.7,1.6,1.5,1.4,1.3,1.2,1.1,1.0, 0.9,0.8,0.8,0.7,0.6,0.5,0.5,0.4,0.4,0.3, 0.3,0.2,0.2,0.2,0.2,0.1,0.1,0.1,0.1,0.1]
s43 = [0.7,0.25,0.1,0.05,0.05,0.05,0.1,0.1,0.15,0.4, 0.6,0.85,1.1,1.35,1.65,1.9,2.3,2.7,3.07,3.44, 3.82,4.07,4.3,4.42,4.5,4.54,4.54,4.42,4.07,3.77,
       3.27,2.82,2.37,1.95,1.5,1.1,0.8,0.55,0.45,0.35, 0.3,0.25,0.2,0.2,0.2,0.2,0.2,0.2,0.2,0.2, 0.2,0.2,0.2,0.2,0.2,0.2,0.2,0.2,0.2,0.2,
       0.15,0.15,0.15,0.15,0.15,0.15,0.15,0.15,0.15,0.15, 0.1,0.1,0.1,0.1,0.1,0.1,0.1,0.1,0.1,0.1, 0.05,0.05,0.05,0.05,0.05]
s44 = [0,0,0,0,0,0,0,0,0,0, 0,0.1,0.1,0.1,0.1,0.1,0.2,0.2,0.2,0.3, 0.3,0.3,0.4,0.4,0.5,0.5,0.6,0.6,0.7,0.7,
       0.8,0.8,0.9,1.0,1.0,1.1,1.1,1.2,1.3,1.3, 1.4,1.4,1.5,1.6,1.6,1.7,1.7,1.8,1.8,1.9, 1.9,1.9,2.0,2.0,2.0,2.1,2.1,2.1,2.1,2.1,
       2.1,2.1,2.0,2.0,2.0,1.9,1.9,1.8,1.8,1.7, 1.6,1.6,1.5,1.4,1.4,1.3,1.2,1.1,1.1,1.0, 0.9,0.9,0.8,0.8,0.7,0.7,0.6,0.6,0.5,0.5,
       0.5,0.4,0.4,0.4,0.4,0.3,0.3,0.3,0.3,0.3]
s45 = [0,0,0,0.05,0.05,0.2,0.35,0.5,0.7,0.85, 1.0,1.15,1.3,1.45,1.55,1.65,1.75,1.8,1.85,1.95, 2.05,2.2,2.35,2.45,2.5,2.55,2.55,2.55,2.55,2.55,
       2.55,2.55,2.55,2.55,2.55,2.55,2.55,2.55,2.55,2.5, 2.4,2.2,1.9,1.6,1.3,1.05,0.9,0.8,0.7,0.65, 0.6,0.6,0.55,0.55,0.55,0.55,0.55,0.55,0.55,0.55,
       0.5,0.5,0.5,0.5,0.5,0.5,0.5,0.5,0.5,0.5, 0.45,0.45,0.45,0.45,0.45,0.45,0.45,0.45,0.45,0.45, 0.4,0.4,0.4,0.4,0.4,0.4,0.4,0.4,0.4,0.4,
       0.35,0.35,0.35,0.35,0.35,0.35,0.35,0.35,0.35,0.35]
s46 = [47.6,33.2,15.6,6.2,2.3,0.8,0.2,0.1]
s47 = [32.5,34.3,17.3,7.4,2.9,1.0,0.3,0.1]
s48 = [100.0,29.9,8.8,2.5,0.8,0.2,0.1]
s49 = [99.6,30.2,9.0,2.6,0.8,0.2]
s50 = [100.0,29.8,8.7,2.5,0.8,0.2]
s51 = [99.8,30.5,9.5,3.0,1.0,0.3]
s52 = [0,0,0,0,0,0,0,0,0,0.1, 0.1,0.1,0.1,0.2,0.2,0.3,0.3,0.3,0.4,0.4, 0.5,0.6,0.6,0.7,0.8,0.9,1.0,1.1,1.2,1.3,
       1.4,1.5,1.5,1.6,1.7,1.8,1.9,1.9,2.0,2.1, 2.1,2.2,2.2,2.2,2.3,2.3,2.3,2.3,2.3,2.3, 2.2,2.2,2.1,2.1,2.0,1.9,1.8,1.7,1.6,1.5,
       1.4,1.3,1.2,1.1,1.0,0.9,0.8,0.7,0.6,0.5, 0.4,0.4,0.3,0.3,0.2,0.2,0.1,0.1,0.1,0.1]
s53 = [0,0,0,0,0,0,0,0.1,0.1,0.1, 0.2,0.2,0.2,0.3,0.3,0.4,0.4,0.5,0.6,0.6, 0.7,0.8,0.9,1.0,1.1,1.2,1.3,1.4,1.5,1.6,
       1.7,1.8,1.9,2.0,2.1,2.2,2.3,2.3,2.4,2.4, 2.5,2.5,2.5,2.5,2.4,2.4,2.3,2.3,2.2,2.1, 2.0,1.9,1.8,1.7,1.6,1.4,1.3,1.2,1.0,0.9,
       0.8,0.7,0.6,0.5,0.4,0.4,0.3,0.2,0.2,0.1, 0.1,0.1,0.1]
s54 = [79.5,31.3,11.4,4.0,1.45,0.4,0.1]
s55 = [0,0,0,0,0,0,0,0,0,0.1, 0.1,0.1,0.1,0.2,0.2,0.2,0.3,0.3,0.3,0.4, 0.4,0.5,0.5,0.6,0.7,0.7,0.8,0.9,1.0,1.0,
       1.1,1.2,1.3,1.3,1.4,1.5,1.6,1.6,1.7,1.8, 1.8,1.9,1.9,2.0,2.0,2.0,2.1,2.1,2.1,2.1, 2.1,2.1,2.1,2.1,2.0,2.0,1.9,1.9,1.8,1.7,
       1.6,1.5,1.5,1.4,1.3,1.2,1.1,1.0,0.9,0.8, 0.7,0.7,0.6,0.5,0.5,0.4,0.3,0.3,0.3,0.2, 0.2,0.2,0.1,0.1,0.1,0.1,0.1]
s56 = [0,0,0,0,0,0,0,0,0,0.1, 0.1,0.1,0.2,0.2,0.2,0.2,0.3,0.3,0.4,0.4, 0.5,0.5,0.6,0.6,0.7,0.8,0.8,0.9,1.0,1.1,
       1.1,1.2,1.3,1.4,1.4,1.5,1.6,1.7,1.7,1.8, 1.8,1.9,1.9,2.0,2.0,2.0,2.1,2.1,2.1,2.1, 2.1,2.1,2.0,2.0,2.0,1.9,1.9,1.8,1.7,1.7,
       1.6,1.5,1.4,1.3,1.2,1.1,1.0,1.0,0.9,0.8, 0.7,0.6,0.6,0.5,0.4,0.4,0.3,0.3,0.2,0.2, 0.2,0.1,0.1,0.1,0.1,0.1]
s57 = [0,0,0,0,0,0,0,0,0,0, 0.1,0.1,0.1,0.1,0.2,0.2,0.2,0.3,0.3,0.3, 0.4,0.4,0.5,0.5,0.6,0.6,0.7,0.8,0.8,0.9,
       1.0,1.1,1.1,1.2,1.3,1.4,1.4,1.5,1.6,1.7, 1.7,1.8,1.9,1.9,2.0,2.0,2.1,2.1,2.2,2.2, 2.2,2.2,2.3,2.3,2.2,2.2,2.2,2.2,2.1,2.1,
       2.1,2.0,2.0,2.0,1.9,1.8,1.7,1.6,1.5,1.4, 1.3,1.2,1.1,1.0,0.9,0.8,0.7,0.6,0.5,0.4, 0.4,0.3,0.3,0.2,0.2,0.2,0.1,0.1,0.1,0.1,
       0.1,0.1,0.1,0.1,0.1,0.1,0.1,0.1,0.1,0.1]
s58 = [0,0,0,0,0,0,0,0,0,0.1, 0.1,0.1,0.1,0.2,0.2,0.2,0.3,0.3,0.3,0.4, 0.4,0.5,0.6,0.6,0.7,0.8,0.9,0.9,1.0,1.1,
       1.2,1.3,1.4,1.5,1.6,1.6,1.7,1.8,1.9,1.9, 2.0,2.0,2.1,2.1,2.2,2.2,2.2,2.3,2.3,2.3, 2.3,2.3,2.2,2.2,2.2,2.1,2.1,2.0,1.9,1.9,
       1.8,1.7,1.6,1.5,1.4,1.3,1.2,1.1,1.0,0.9, 0.9,0.8,0.7,0.7,0.6,0.6,0.5,0.5,0.4,0.4, 0.4,0.3,0.3,0.3,0.3,0.2,0.2,0.2,0.2,0.2,
       0.1,0.1,0.1,0.1,0.1,0.1,0.1,0.1,0.1,0.1]
s59 = [0,0,0,0,0,0,0,0,0,0.1, 0.1,0.1,0.1,0.2,0.2,0.2,0.3,0.3,0.3,0.4, 0.4,0.5,0.5,0.6,0.7,0.7,0.8,0.9,1.0,1.1,
       1.2,1.2,1.3,1.4,1.5,1.6,1.7,1.7,1.8,1.9, 1.9,2.0,2.0,2.1,2.1,2.2,2.2,2.2,2.3,2.3, 2.3,2.3,2.2,2.2,2.2,2.1,2.0,2.0,1.9,1.8,
       1.7,1.6,1.5,1.4,1.3,1.2,1.1,1.0,0.9,0.8, 0.7,0.6,0.6,0.5,0.5,0.4,0.4,0.3,0.3,0.3, 0.3,0.3,0.3,0.3,0.2,0.2,0.2,0.2,0.2,0.2,
       0.2,0.2,0.2,0.2,0.2,0.2,0.2,0.2,0.2,0.2]
s60 = [0,0,0,0,0,0,0,0,0,0, 0.1,0.1,0.1,0.1,0.2,0.2,0.2,0.2,0.3,0.3, 0.3,0.4,0.4,0.5,0.5,0.6,0.6,0.7,0.7,0.8,
       0.9,0.9,1.0,1.1,1.1,1.2,1.3,1.3,1.4,1.5, 1.5,1.6,1.6,1.7,1.7,1.8,1.8,1.9,1.9,1.9, 2.0,2.0,2.0,2.0,2.0,2.0,2.0,2.0,1.9,1.9,
       1.9,1.8,1.8,1.7,1.7,1.6,1.5,1.5,1.4,1.3, 1.3,1.2,1.1,1.1,1.0,1.0,0.9,0.9,0.8,0.8, 0.7,0.7,0.7,0.6,0.6,0.6,0.6,0.5,0.5,0.5,
       0.5,0.5,0.4,0.4,0.4,0.4,0.4,0.4,0.4,0.4]

SERIES = [s01, s02, s03, s04, s05, s06, s07, s08, s09, s10, s11, s12, s13, s14, s15,
          s16, s17, s18, s19, s20, s21, s22, s23, s24, s25, s26, s27, s28, s29, s30,
          s31, s32, s33, s34, s35, s36, s37, s38, s39, s40, s41, s42, s43, s44, s45,
          s46, s47, s48, s49, s50, s51, s52, s53, s54, s55, s56, s57, s58, s59, s60]

COLORS = ['#9400d3', '#009e73', '#56b4e9', '#e69f00', '#f0e442', '#0072b2', '#e51e10', '#000000']
# (marker, size in pt, filled)
MARKERS = [('+', 6.5, False), ('x', 5.0, False), ((8, 2, 0), 6.5, False), ('s', 4.6, False),
           ('s', 4.6, True), ('o', 3.4, False), ('o', 3.4, True), ('^', 5.2, False),
           ('^', 5.2, True), ('v', 5.2, False), ('v', 5.2, True), ('D', 3.4, False), ('D', 3.4, True)]

W, H = 1400, 1920
fig = plt.figure(figsize=(W / 100, H / 100), dpi=100)

# legend / annotation layer in pixel coordinates
lax = fig.add_axes([0, 0, 1, 1])
lax.set_xlim(0, W)
lax.set_ylim(H, 0)
lax.axis('off')

ax_l, ax_r, ax_t, ax_b = 57.5, 1379.0, 35.0, 1371.0
ax = fig.add_axes([ax_l / W, 1 - ax_b / H, (ax_r - ax_l) / W, (ax_b - ax_t) / H])

bins = BIN_START + BIN_STEP * np.arange(N_BINS)
for i, vals in enumerate(SERIES):
    y = np.array(vals + [0.0] * (N_BINS - len(vals)), dtype=float)
    c = COLORS[i % 8]
    m, ms, filled = MARKERS[i % 13]
    ax.plot(bins, y, color=c, lw=0.9, marker=m, ms=ms, mec=c, mew=0.9,
            mfc=c if filled else 'none', clip_on=False, zorder=3)

ax.set_xlim(0, 30)
ax.set_ylim(0, 100)
ax.set_xticks(X_TICKS)
ax.set_xticks(X_MINOR, minor=True)
ax.set_yticks(Y_TICKS)
ax.set_axisbelow(True)
grid_kw = dict(color='#a0a0a0', lw=0.8, ls=(0, (2.2, 3.0)))
ax.grid(True, which='both', axis='x', **grid_kw)
ax.grid(True, which='major', axis='y', **grid_kw)
ax.tick_params(which='major', direction='in', length=10, width=1, top=True, right=True,
               labelsize=8.5, pad=5, colors='black')
ax.tick_params(which='minor', direction='in', length=5, width=1, top=True, right=True)
for sp in ax.spines.values():
    sp.set_linewidth(1.0)

fig.text(0.5, 1 - 16 / H, TITLE, ha='center', va='center', fontsize=7.9)
fig.text(10 / W, 1 - 703 / H, YLABEL, ha='center', va='center', rotation=90, fontsize=8.5)
fig.text((ax_l + ax_r) / 2 / W, 1 - 1399 / H, XLABEL, ha='center', va='center', fontsize=8.3, zorder=5)

# key box
kx0, kx1, ky0, ky1 = 171.5, 1231.0, 1394.5, 1905.5
lax.add_patch(Rectangle((kx0, ky0), kx1 - kx0, ky1 - ky0, fill=False, lw=1.0, ec='black'))
cols = [dict(tx=660, l0=668, l1=710, mx=689), dict(tx=1190, l0=1198, l1=1236, mx=1219)]
for i, lab in enumerate(LABELS):
    col = cols[i // 30]
    y = 1403 + 17 * (i % 30)
    c = COLORS[i % 8]
    m, ms, filled = MARKERS[i % 13]
    lax.text(col['tx'], y, lab, ha='right', va='center', fontsize=8.3)
    lax.add_line(Line2D([col['l0'], col['l1']], [y, y], color=c, lw=0.9))
    lax.add_line(Line2D([col['mx']], [y], color=c, marker=m, ms=ms, mec=c, mew=0.9,
                        mfc=c if filled else 'none'))

fig.savefig('out.png', dpi=100)
